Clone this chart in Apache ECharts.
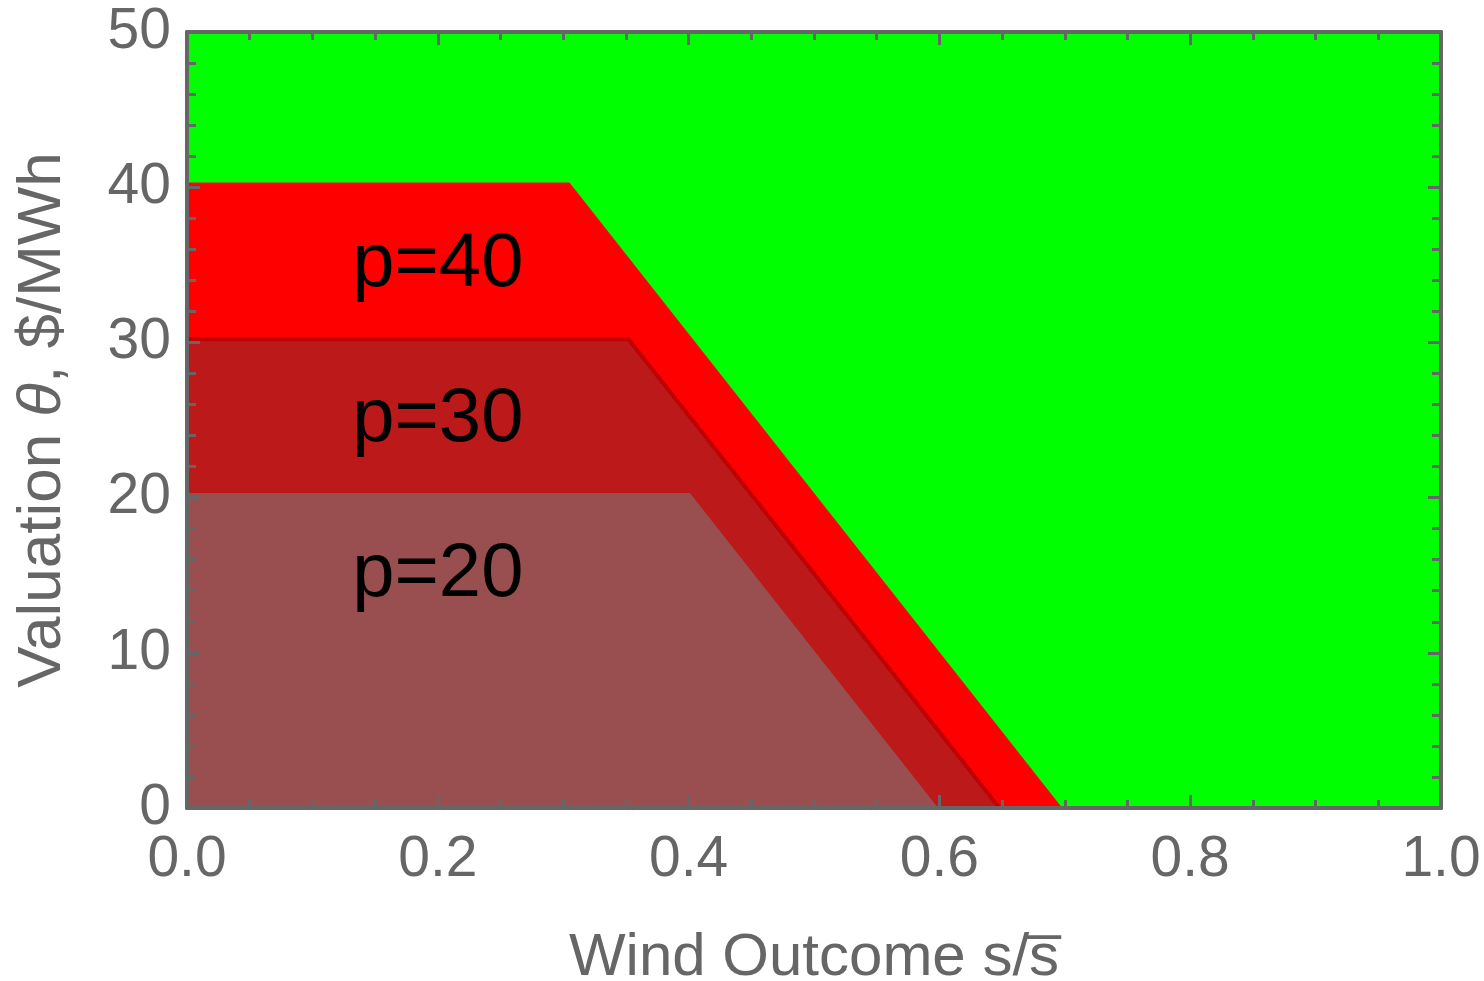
<!DOCTYPE html>
<html>
<head>
<meta charset="utf-8">
<script src="https://cdn.jsdelivr.net/npm/echarts@6/dist/echarts.min.js"></script>
<style>
  html, body { margin: 0; padding: 0; background: #fff; }
  #chart { width: 1484px; height: 981px; }
</style>
</head>
<body>
<div id="chart"></div>
<script>
// region boundaries: [s/s̄, θ]
var greenRegion = [[0, 50], [1, 50]];
var p40Region = [[0, 40.3], [0.305, 40.3], [0.698, 0]];
var p30Region = [[0, 30.2], [0.352, 30.2], [0.648, 0]];
var p20Region = [[0, 20.3], [0.401, 20.3], [0.599, 0]];
var regionLabels = [
  { name: 'p=40', value: [0.2, 35] },
  { name: 'p=30', value: [0.2, 25] },
  { name: 'p=20', value: [0.2, 15] }
];

var frameColor = '#666666';
var textColor = '#666666';
var font = 'Liberation Sans, Arial, sans-serif';

function areaSerie(name, data, fill, edge, edgeWidth) {
  return {
    name: name,
    type: 'line',
    data: data,
    symbol: 'none',
    silent: true,
    animation: false,
    lineStyle: { color: edge, width: edgeWidth },
    areaStyle: { color: fill, opacity: 1, origin: 'start' },
    z: 2
  };
}

function axisBase(extra) {
  var ax = {
    z: 10,
    axisLine: { show: true, onZero: false, lineStyle: { color: frameColor, width: 4 } },
    axisTick: { show: true, inside: true, length: 13, lineStyle: { color: frameColor, width: 3 } },
    minorTick: { show: true, splitNumber: 4, length: 8, lineStyle: { color: frameColor, width: 3 } },
    splitLine: { show: false },
    minorSplitLine: { show: false },
    axisLabel: {
      color: textColor,
      fontFamily: font,
      fontSize: 57
    }
  };
  for (var k in extra) ax[k] = extra[k];
  return ax;
}

var chart = echarts.init(document.getElementById('chart'), null, { renderer: 'canvas' });

chart.setOption({
  animation: false,
  grid: { left: 187, right: 43, top: 32, bottom: 173, containLabel: false, outerBoundsMode: 'none' },
  xAxis: [
    axisBase({
      type: 'value', min: 0, max: 1, interval: 0.2, position: 'bottom',
      name: 'Wind Outcome s/s\u0305',
      nameLocation: 'middle',
      nameGap: 120,
      nameTextStyle: { color: textColor, fontFamily: font, fontSize: 60 },
      axisLabel: {
        color: textColor, fontFamily: font, fontSize: 57, margin: 24,
        formatter: function (v) { return v.toFixed(1); }
      }
    }),
    axisBase({
      type: 'value', min: 0, max: 1, interval: 0.2, position: 'top',
      axisLabel: { show: false }
    })
  ],
  yAxis: [
    axisBase({
      type: 'value', min: 0, max: 50, interval: 10, position: 'left',
      name: '{n|Valuation }{i|θ}{n|, $/MWh}',
      nameLocation: 'middle',
      nameGap: 113,
      nameTextStyle: {
        color: textColor, fontFamily: font, fontSize: 62,
        rich: {
          n: { color: textColor, fontFamily: font, fontSize: 62 },
          i: { color: textColor, fontFamily: font, fontSize: 62, fontStyle: 'italic' }
        }
      },
      minorTick: { show: true, splitNumber: 5, length: 9, lineStyle: { color: frameColor, width: 3 } },
      axisLabel: { color: textColor, fontFamily: font, fontSize: 57, margin: 16 }
    }),
    axisBase({
      type: 'value', min: 0, max: 50, interval: 10, position: 'right',
      minorTick: { show: true, splitNumber: 5, length: 9, lineStyle: { color: frameColor, width: 3 } },
      axisLabel: { show: false }
    })
  ],
  series: [
    areaSerie('green', greenRegion, '#00ff00', '#00ff00', 0),
    areaSerie('p40', p40Region, '#ff0000', '#ff0000', 0),
    areaSerie('p30', p30Region, '#bc1a1a', '#c00000', 4),
    areaSerie('p20', p20Region, '#994f4f', '#994f4f', 0),
    {
      type: 'scatter',
      data: regionLabels,
      symbolSize: 0,
      silent: true,
      animation: false,
      z: 5,
      itemStyle: { opacity: 1 },
      label: {
        show: true,
        position: 'inside',
        formatter: function (p) { return p.name; },
        color: '#000000',
        opacity: 1,
        fontFamily: font,
        fontSize: 76
      }
    }
  ]
});
</script>
</body>
</html>
